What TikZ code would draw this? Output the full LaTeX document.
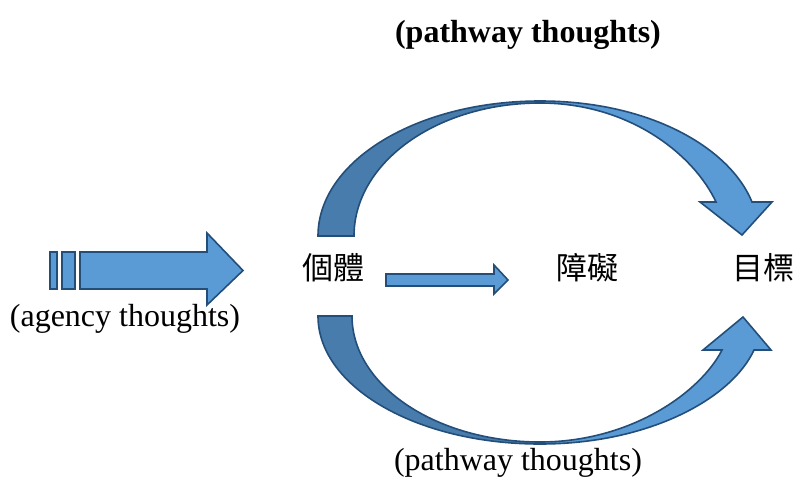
\documentclass[tikz,border=0pt]{standalone}
\usepackage{fontspec}
\setmainfont{Liberation Serif}
\newfontfamily\cjk{Noto Sans CJK TC}
\definecolor{lightblue}{RGB}{91,155,213}
\definecolor{darkblue}{RGB}{72,124,172}
\definecolor{edgeblue}{RGB}{35,78,122}
\begin{document}
\begin{tikzpicture}[x=1pt,y=-1pt,
  lightpart/.style={fill=lightblue,draw=edgeblue,line width=1.6pt},
  darkpart/.style={fill=darkblue,draw=edgeblue,line width=1.6pt},
  cjklabel/.style={inner sep=0pt,font=\cjk\fontsize{31}{36}\selectfont},
  enlabel/.style={inner sep=0pt,font=\fontsize{32}{38}\selectfont},
  enbold/.style={inner sep=0pt,font=\fontsize{32}{38}\selectfont\bfseries}]
\useasboundingbox (0,0) rectangle (797,477);

% text labels
\node[enbold] (ptop) at (528,35) {(pathway thoughts)};
\node[enlabel] (pbot) at (518,463) {(pathway thoughts)};
\node[enlabel] (agency) at (125,319) {(agency thoughts)};
\node[cjklabel] (ind) at (333,268) {個體};
\node[cjklabel] (obs) at (587,268) {障礙};
\node[cjklabel] (goal) at (763,268) {目標};

% left straight arrow with bars
\draw[lightpart] (50,252) rectangle (57,289);
\draw[lightpart] (62,252) rectangle (75,289);
\draw[lightpart] (80,252) -- (207,252) -- (207,233) -- (243,270.5) -- (207,305) -- (207,289) -- (80,289) -- cycle;

% middle straight arrow
\draw[lightpart] (386,274) -- (494,274) -- (494,265) -- (508,280) -- (494,294) -- (494,286) -- (386,286) -- cycle;

% top curved arrow
\draw[lightpart] (540,101) .. controls (650,101) and (730,148) .. (752,202)
  -- (772,202) -- (742,235) -- (700,202) -- (716,202)
  .. controls (694,155) and (630,103) .. (540,103) -- cycle;
\draw[darkpart] (318,236) .. controls (318,161) and (417,101) .. (540,101)
  -- (540,103) .. controls (437,103) and (354,162.5) .. (354,236) -- cycle;

% bottom curved arrow
\draw[lightpart] (540,444) .. controls (650,444) and (732,398) .. (754,350)
  -- (771,350) -- (743,317) -- (703,350) -- (722,350)
  .. controls (700,393) and (630,442) .. (540,442) -- cycle;
\draw[darkpart] (318,316) .. controls (318,387) and (417,444) .. (540,444)
  -- (540,442) .. controls (437,442) and (352,386) .. (352,316) -- cycle;
\end{tikzpicture}
\end{document}
